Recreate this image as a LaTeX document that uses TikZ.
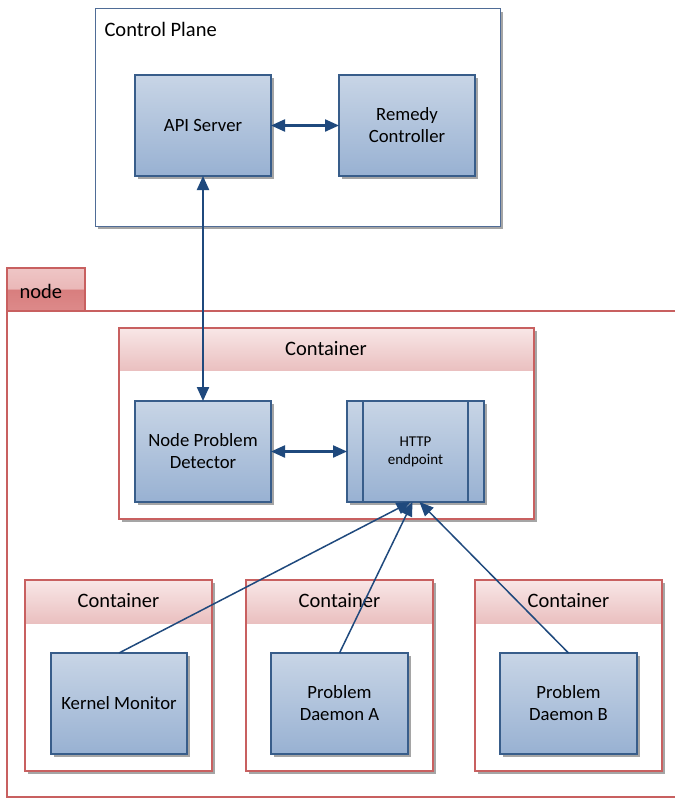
\documentclass[tikz,border=0pt]{standalone}
\usepackage{fontspec}
\setmainfont{Carlito}
\usetikzlibrary{shadows,arrows.meta}

\definecolor{boxtop}{RGB}{200,213,230}
\definecolor{boxbot}{RGB}{152,177,210}
\definecolor{boxline}{RGB}{56,93,138}
\definecolor{wire}{RGB}{31,73,125}
\definecolor{planeline}{RGB}{79,108,150}
\definecolor{redline}{RGB}{200,96,96}
\definecolor{headtop}{RGB}{248,230,230}
\definecolor{headbot}{RGB}{234,192,192}
\definecolor{tabtop}{RGB}{244,212,212}
\definecolor{tabmidA}{RGB}{234,184,184}
\definecolor{tabmidB}{RGB}{216,126,126}
\definecolor{tabbot}{RGB}{226,150,150}
\definecolor{shadowgray}{RGB}{165,165,165}

\pgfdeclareverticalshading{tabshade}{100bp}{%
  color(0bp)=(tabbot); color(50bp)=(tabmidB); color(51bp)=(tabmidA); color(100bp)=(tabtop)}

\tikzset{
  boxshadow/.style={drop shadow={shadow xshift=3pt, shadow yshift=-3pt, fill=shadowgray, opacity=1}},
  bluebox/.style={draw=boxline, line width=1.2pt, top color=boxtop, bottom color=boxbot,
    inner sep=0pt, outer sep=0pt, minimum width=136pt, minimum height=101pt,
    anchor=north west, align=center, font=\fontsize{18.7}{22}\selectfont, boxshadow},
  planebox/.style={draw=planeline, line width=1pt, fill=white, inner sep=0pt, outer sep=0pt,
    anchor=north west, boxshadow},
  contbox/.style={draw=redline, line width=1.2pt, fill=white, inner sep=0pt, outer sep=0pt,
    anchor=north west, boxshadow},
  headfill/.style={top color=headtop, bottom color=headbot},
  headtext/.style={font=\fontsize{20.5}{24}\selectfont},
  tip/.tip={Triangle[length=14pt,width=12pt]},
  biarrow/.style={draw=wire, line width=2.2pt, tip-tip},
  feed/.style={draw=wire, line width=1.5pt, -tip},
}

\begin{document}
\begin{tikzpicture}[x=1pt,y=-1pt]
\useasboundingbox (0,0) rectangle (675,800);

% ---- control plane ----
\node[planebox, minimum width=405pt, minimum height=217pt] (plane) at (95,9) {};
\node[headtext, anchor=west] (planelbl) at (101,29) {Control Plane};
\node[bluebox] (api) at (135,75) {API Server};
\node[bluebox] (remedy) at (339,75) {Remedy\\Controller};

% ---- node frame ----
\draw[redline, line width=1.2pt] (675,311) -- (7,311) -- (7,797) -- (675,797);
\node[draw=redline, line width=1.2pt, shading=tabshade, inner sep=0pt, outer sep=0pt,
  minimum width=78pt, minimum height=43pt, anchor=north west] (tab) at (7,268) {};
\node[headtext, anchor=west] (tablbl) at (16,291) {node};

% ---- main container ----
\node[contbox, minimum width=415pt, minimum height=191pt] (c0) at (119,328) {};
\fill[headfill] ([shift={(0.6pt,-0.6pt)}]c0.north west) rectangle ([shift={(-0.6pt,-42pt)}]c0.north east);
\draw[redline, line width=1.2pt] (c0.north west) rectangle (c0.south east);
\node[headtext] (c0lbl) at (326,349) {Container};
\node[bluebox] (npd) at (135,401) {Node Problem\\Detector};
\node[bluebox, minimum width=137pt, font=\fontsize{15}{18}\selectfont] (http) at (347,401) {HTTP\\endpoint};
\draw[boxline, line width=1.2pt] ([xshift=16pt]http.north west) -- ([xshift=16pt]http.south west)
  ([xshift=-16pt]http.north east) -- ([xshift=-16pt]http.south east);

% ---- daemon containers ----
\foreach \cx/\nm in {25/c1, 246/c2, 475/c3}{
  \node[contbox, minimum width=187pt, minimum height=191pt] (\nm) at (\cx,580) {};
  \fill[headfill] ([shift={(0.6pt,-0.6pt)}]\nm.north west) rectangle ([shift={(-0.6pt,-43pt)}]\nm.north east);
  \draw[redline, line width=1.2pt] (\nm.north west) rectangle (\nm.south east);
  \node[headtext] (\nm lbl) at ([yshift=-21pt]\nm.north) {Container};
}
\node[bluebox] (kmon) at (51,653) {Kernel Monitor};
\node[bluebox, minimum width=137pt] (pda) at (271,653) {Problem\\Daemon A};
\node[bluebox, minimum width=137pt] (pdb) at (500,653) {Problem\\Daemon B};

% ---- connectors ----
\draw[biarrow] (api.east) -- (remedy.west);
\draw[biarrow] (api.south) -- (api.south |- npd.north);
\draw[biarrow] (npd.east) -- (http.west);
\draw[feed] (kmon.north) -- ([xshift=-5pt]http.south);
\draw[feed] (pda.north) -- ([xshift=-3pt]http.south);
\draw[feed] (pdb.north) -- ([xshift=4pt]http.south);
\end{tikzpicture}
\end{document}
